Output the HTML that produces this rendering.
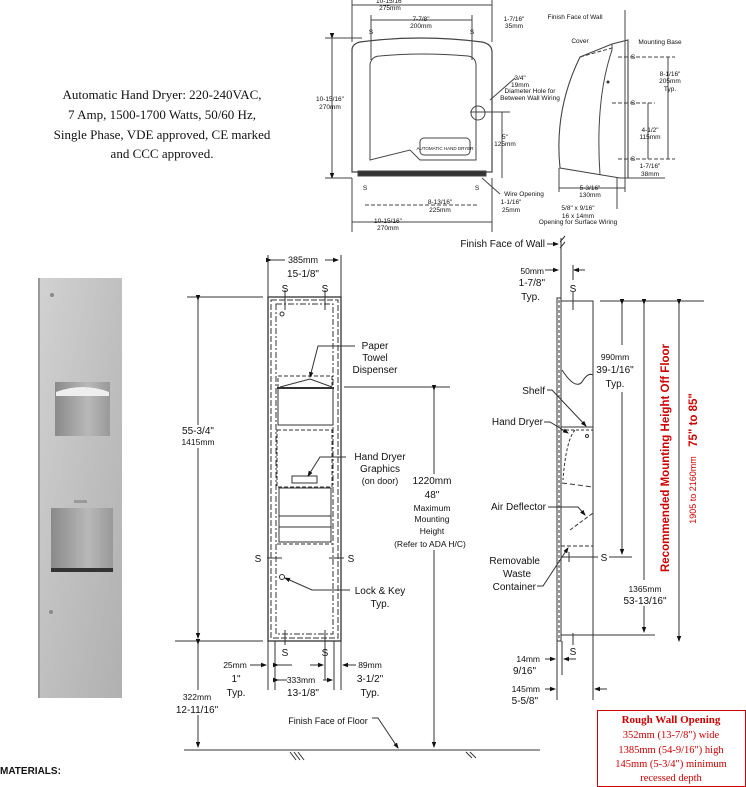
<!DOCTYPE html>
<html><head><meta charset="utf-8"><style>
html,body{margin:0;padding:0;background:#fff}
svg{display:block}
text{font-family:"Liberation Sans",sans-serif;fill:#111}
.s{font-family:"Liberation Serif",serif}
.r{fill:#d00000}
</style></head><body>
<svg width="746" height="787" viewBox="0 0 746 787" xmlns="http://www.w3.org/2000/svg">
<defs>
<linearGradient id="pg" x1="0" x2="1" y1="0" y2="1"><stop offset="0" stop-color="#d2d2d2"/><stop offset="0.5" stop-color="#c0c0c0"/><stop offset="1" stop-color="#b0b0b0"/></linearGradient>
<linearGradient id="og" x1="0" x2="1"><stop offset="0" stop-color="#8a8a8a"/><stop offset="0.6" stop-color="#b8b8b8"/><stop offset="1" stop-color="#999"/></linearGradient>
<marker id="a" markerWidth="6" markerHeight="6" refX="5" refY="3" orient="auto"><path d="M0,0.8 L6,3 L0,5.2z" fill="#111"/></marker>
</defs>

<g class="s" font-size="13" text-anchor="middle">
<text class="s" x="162" y="99">Automatic Hand Dryer: 220-240VAC,</text>
<text class="s" x="162" y="119">7 Amp, 1500-1700 Watts, 50/60 Hz,</text>
<text class="s" x="162" y="139">Single Phase, VDE approved, CE marked</text>
<text class="s" x="162" y="158">and CCC approved.</text>
</g>

<g fill="none" stroke="#444" stroke-width="1">
<path d="M352,50 Q352,44 360,42 Q420,34 482,42 Q492,44 492,52 L492,172 L352,172 Z" stroke-width="1.2"/>
<path d="M370,64 Q372,56 380,56 Q420,52 468,56 Q475,57 476,64 L476,160 L420,160 L410,150 L370,160 Z"/>
<rect x="358" y="171" width="128" height="5" fill="#333"/>
<circle cx="478" cy="113" r="7"/>
<rect x="420" y="138" width="50" height="17" rx="4"/>
<line x1="332" y1="38" x2="332" y2="178" marker-start="url(#a)" marker-end="url(#a)"/>
<line x1="325" y1="38" x2="362" y2="38"/><line x1="325" y1="178" x2="352" y2="178"/>
<line x1="352" y1="0" x2="352" y2="42"/><line x1="492" y1="0" x2="492" y2="42"/>
<line x1="352" y1="5" x2="492" y2="5"/>
<line x1="371" y1="20" x2="472" y2="20"/><line x1="371" y1="15" x2="371" y2="60"/><line x1="472" y1="15" x2="472" y2="60"/>
<line x1="502" y1="112" x2="502" y2="178"/><line x1="470" y1="112" x2="510" y2="112"/>
<line x1="352" y1="178" x2="352" y2="232"/><line x1="492" y1="178" x2="492" y2="232"/>
<line x1="365" y1="205" x2="477" y2="205" stroke-dasharray="4 2"/>
<line x1="352" y1="222" x2="492" y2="222"/>
<line x1="490" y1="100" x2="515" y2="78"/>
<line x1="482" y1="178" x2="500" y2="194"/>
</g>
<g font-size="6.5" text-anchor="middle">
<text x="390" y="3">10-15/16"</text><text x="390" y="10">275mm</text>
<text x="421" y="21">7-7/8"</text><text x="421" y="28">200mm</text>
<text x="514" y="21">1-7/16"</text><text x="514" y="28">35mm</text>
<text x="371" y="34">S</text><text x="472" y="34">S</text>
<text x="330" y="101">10-15/16"</text><text x="330" y="109">270mm</text>
<text x="520" y="80">3/4"</text><text x="520" y="87">19mm</text>
<text x="530" y="93">Diameter Hole for</text><text x="530" y="100">Between Wall Wiring</text>
<text x="505" y="139">5"</text><text x="505" y="146">125mm</text>
<text x="445" y="150" font-size="4.5">AUTOMATIC HAND DRYER</text>
<text x="365" y="190">S</text><text x="477" y="190">S</text>
<text x="524" y="196">Wire Opening</text>
<text x="440" y="204">8-13/16"</text><text x="440" y="212">225mm</text>
<text x="511" y="204">1-1/16"</text><text x="511" y="212">25mm</text>
<text x="388" y="223">10-15/16"</text><text x="388" y="230">270mm</text>
</g>

<g fill="none" stroke="#444">
<line x1="625" y1="10" x2="625" y2="182"/>
<path d="M580,57 L612,44 L628,40 L628,178 L620,178 L560,168 Q554,110 580,57 Z" stroke-width="1.1"/>
<path d="M612,44 L612,50 Q595,100 600,175"/>
<line x1="580" y1="57" x2="612" y2="48" stroke-dasharray="4 2"/>
<line x1="618" y1="57" x2="675" y2="57" stroke-dasharray="4 2"/>
<line x1="612" y1="103" x2="655" y2="103" stroke-dasharray="4 2"/>
<line x1="618" y1="159" x2="675" y2="159" stroke-dasharray="4 2"/>
<line x1="668" y1="57" x2="668" y2="159"/><line x1="648" y1="103" x2="648" y2="159"/>
<line x1="628" y1="178" x2="665" y2="178"/>
<line x1="559" y1="168" x2="559" y2="192"/><line x1="625" y1="182" x2="625" y2="192"/>
<line x1="559" y1="188" x2="625" y2="188"/>
<line x1="617" y1="178" x2="617" y2="209"/>
</g>
<circle cx="608" cy="82" r="1.5" fill="#333"/>
<g font-size="6.5" text-anchor="middle">
<text x="575" y="19">Finish Face of Wall</text>
<text x="580" y="43">Cover</text><text x="660" y="44">Mounting Base</text>
<text x="633" y="59">S</text><text x="633" y="105">S</text><text x="633" y="161">S</text>
<text x="670" y="76">8-1/16"</text><text x="670" y="83">205mm</text><text x="670" y="91">Typ.</text>
<text x="650" y="132">4-1/2"</text><text x="650" y="139">115mm</text>
<text x="650" y="168">1-7/16"</text><text x="650" y="176">38mm</text>
<text x="590" y="190">5-3/16"</text><text x="590" y="197">130mm</text>
<text x="578" y="210">5/8" x 9/16"</text><text x="578" y="218">16 x 14mm</text><text x="578" y="224">Opening for Surface Wiring</text>
</g>

<rect x="38" y="278" width="84" height="420" fill="url(#pg)"/>
<rect x="38" y="278" width="2" height="420" fill="#999"/>
<rect x="55" y="382" width="55" height="54" fill="url(#og)"/>
<path d="M56,392 Q83,382 109,392 L109,396 L56,396Z" fill="#eee"/>
<rect x="51" y="508" width="62" height="64" fill="url(#og)"/>
<rect x="51" y="568" width="62" height="4" fill="#333"/>
<rect x="74" y="500" width="13" height="3" fill="#999"/>
<circle cx="52" cy="295" r="2" fill="#888"/><circle cx="51" cy="612" r="2" fill="#888"/>

<g fill="none" stroke="#333" stroke-width="1">
<rect x="268" y="297" width="73" height="344" stroke-width="1.3"/>
<rect x="271" y="300" width="67" height="338" stroke-dasharray="6 2"/>
<rect x="276" y="304" width="57" height="330" stroke-dasharray="6 2 2 2"/>
<rect x="278" y="388" width="55" height="37"/>
<line x1="277" y1="388" x2="334" y2="388" stroke-width="2"/>
<path d="M280,387 L310,379 L332,387"/>
<rect x="278" y="376" width="54" height="12" stroke-dasharray="4 2"/>
<rect x="277" y="430" width="55" height="57" stroke-dasharray="4 2"/>
<rect x="279" y="488" width="52" height="54"/>
<line x1="279" y1="516" x2="331" y2="516"/><line x1="279" y1="527" x2="331" y2="527"/>
<line x1="277" y1="544" x2="333" y2="544" stroke-dasharray="4 2"/>
<rect x="292" y="476" width="25" height="7"/>
<circle cx="282" cy="314" r="2"/><circle cx="282" cy="577" r="2.5"/>
<line x1="285" y1="290" x2="285" y2="310"/><line x1="325" y1="290" x2="325" y2="310"/>
<line x1="285" y1="630" x2="285" y2="645"/><line x1="325" y1="630" x2="325" y2="645"/>
<line x1="267" y1="558" x2="282" y2="558"/><line x1="329" y1="558" x2="344" y2="558"/>
<line x1="268" y1="255" x2="268" y2="297"/><line x1="341" y1="255" x2="341" y2="297"/>
<line x1="271" y1="260" x2="285" y2="260" marker-start="url(#a)"/><line x1="325" y1="260" x2="338" y2="260" marker-end="url(#a)"/>
<line x1="187" y1="297" x2="263" y2="297"/><line x1="175" y1="641" x2="263" y2="641"/>
<line x1="198" y1="300" x2="198" y2="425" marker-start="url(#a)"/><line x1="198" y1="448" x2="198" y2="638" marker-end="url(#a)"/>
<line x1="198" y1="644" x2="198" y2="690" marker-start="url(#a)"/><line x1="198" y1="715" x2="198" y2="747" marker-end="url(#a)"/>
<line x1="184" y1="750" x2="540" y2="750"/>
<line x1="290" y1="752" x2="296" y2="760"/><line x1="294" y1="752" x2="300" y2="760"/><line x1="298" y1="752" x2="304" y2="760"/>
<line x1="344" y1="387" x2="450" y2="387"/>
<line x1="434" y1="390" x2="434" y2="474" marker-start="url(#a)"/><line x1="434" y1="550" x2="434" y2="747" marker-end="url(#a)"/>
<line x1="268" y1="641" x2="268" y2="690"/><line x1="275" y1="641" x2="275" y2="690"/>
<line x1="325" y1="645" x2="325" y2="680"/><line x1="334" y1="641" x2="334" y2="690"/><line x1="341" y1="641" x2="341" y2="690"/>
<line x1="250" y1="665" x2="266" y2="665" marker-end="url(#a)"/>
<line x1="278" y1="665" x2="292" y2="665" marker-start="url(#a)"/><line x1="310" y1="665" x2="323" y2="665" marker-end="url(#a)"/>
<line x1="278" y1="680" x2="287" y2="680" marker-start="url(#a)"/><line x1="323" y1="680" x2="332" y2="680" marker-end="url(#a)"/>
<line x1="356" y1="665" x2="343" y2="665" marker-end="url(#a)"/>
<path d="M355,346 L318,346 L310,377" marker-end="url(#a)"/>
<path d="M346,457 L320,457 L308,476" marker-end="url(#a)"/>
<path d="M350,590 L312,590 L285,578" marker-end="url(#a)"/>
<path d="M372,718 L378,718 L398,748" marker-end="url(#a)"/>
</g>
<g font-size="10" text-anchor="middle">
<text x="303" y="263" font-size="9">385mm</text><text x="303" y="277">15-1/8"</text>
<text x="285" y="292">S</text><text x="325" y="292">S</text>
<text x="198" y="434">55-3/4"</text><text x="198" y="445" font-size="8.5">1415mm</text>
<text x="375" y="349">Paper</text><text x="375" y="361">Towel</text><text x="375" y="373">Dispenser</text>
<text x="380" y="460">Hand Dryer</text><text x="380" y="472">Graphics</text><text x="380" y="484" font-size="9">(on door)</text>
<text x="258" y="562">S</text><text x="351" y="562">S</text>
<text x="380" y="594">Lock &amp; Key</text><text x="380" y="607">Typ.</text>
<text x="432" y="484">1220mm</text><text x="432" y="498">48"</text>
<text x="432" y="511" font-size="8.5">Maximum</text><text x="432" y="522" font-size="8.5">Mounting</text><text x="432" y="534" font-size="8.5">Height</text><text x="430" y="547" font-size="8.5">(Refer to ADA H/C)</text>
<text x="285" y="656">S</text><text x="325" y="656">S</text>
<text x="235" y="668" font-size="8.5">25mm</text><text x="236" y="682">1"</text><text x="236" y="696">Typ.</text>
<text x="301" y="683" font-size="8.5">333mm</text><text x="303" y="696">13-1/8"</text>
<text x="370" y="668" font-size="8.5">89mm</text><text x="370" y="682">3-1/2"</text><text x="370" y="696">Typ.</text>
<text x="197" y="700" font-size="8.5">322mm</text><text x="197" y="713">12-11/16"</text>
<text x="328" y="724" font-size="9">Finish Face of Floor</text>
</g>
<text x="0" y="774" font-size="10" font-weight="bold">MATERIALS:</text>

<g fill="none" stroke="#333" stroke-width="1">
<line x1="561" y1="238" x2="561" y2="298"/>
<path d="M560,242 L565,236 M560,248 L565,242" />
<rect x="557" y="298" width="4" height="343"/>
<rect x="561" y="301" width="32" height="334"/>
<line x1="559" y1="300" x2="559" y2="638" stroke-dasharray="3 2"/>
<path d="M562,370 Q575,390 582,382 Q588,372 593,375"/>
<line x1="561" y1="427" x2="593" y2="427"/><line x1="561" y1="430" x2="593" y2="430" stroke-dasharray="3 2"/>
<path d="M575,430 Q566,440 563,480" stroke-dasharray="3 2"/>
<line x1="562" y1="483" x2="593" y2="487" stroke-dasharray="5 3"/>
<line x1="570" y1="530" x2="593" y2="513" stroke-dasharray="4 2"/>
<line x1="561" y1="546" x2="593" y2="546" stroke-dasharray="4 2"/>
<line x1="569" y1="552" x2="569" y2="562"/>
<line x1="561" y1="557" x2="598" y2="557"/>
<line x1="609" y1="557" x2="632" y2="557"/>
<line x1="573" y1="292" x2="573" y2="310"/><line x1="573" y1="633" x2="573" y2="645"/>
<line x1="547" y1="244" x2="558" y2="244" marker-end="url(#a)"/>
<line x1="545" y1="270" x2="558" y2="270" marker-end="url(#a)"/><line x1="585" y1="270" x2="574" y2="270" marker-end="url(#a)"/>
<line x1="561" y1="258" x2="561" y2="300"/><line x1="573" y1="265" x2="573" y2="280"/>
<line x1="600" y1="301" x2="704" y2="301"/><line x1="593" y1="635" x2="655" y2="635"/>
<line x1="622" y1="304" x2="622" y2="345" marker-start="url(#a)"/><line x1="622" y1="392" x2="622" y2="554" marker-end="url(#a)"/>
<line x1="644" y1="304" x2="644" y2="580" marker-start="url(#a)"/><line x1="644" y1="606" x2="644" y2="632" marker-end="url(#a)"/>
<line x1="679" y1="304" x2="679" y2="641" marker-start="url(#a)" marker-end="url(#a)"/>
<line x1="557" y1="641" x2="557" y2="700"/><line x1="562" y1="641" x2="562" y2="675"/><line x1="593" y1="635" x2="593" y2="700"/>
<line x1="545" y1="659" x2="555" y2="659" marker-end="url(#a)"/><line x1="576" y1="659" x2="564" y2="659" marker-end="url(#a)"/>
<line x1="545" y1="689" x2="555" y2="689" marker-end="url(#a)"/><line x1="607" y1="689" x2="595" y2="689" marker-end="url(#a)"/>
<line x1="420" y1="750" x2="505" y2="750"/>
<line x1="466" y1="752" x2="472" y2="758"/><line x1="470" y1="752" x2="476" y2="758"/>
<path d="M547,390 L552,390 L586,426" marker-end="url(#a)"/>
<path d="M544,422 L550,422 L568,433" marker-end="url(#a)"/>
<path d="M548,507 L578,507 L585,515" marker-end="url(#a)"/>
<path d="M537,586 L543,586 L568,548" marker-end="url(#a)"/>
</g>
<circle cx="587" cy="436" r="1.5" fill="none" stroke="#333"/>
<g font-size="10" text-anchor="end">
<text x="545" y="247">Finish Face of Wall</text>
<text x="544" y="274" font-size="8.5">50mm</text><text x="545" y="286">1-7/8"</text><text x="540" y="300">Typ.</text>
<text x="545" y="394">Shelf</text>
<text x="543" y="425">Hand Dryer</text>
<text x="546" y="510">Air Deflector</text>
<text x="540" y="564">Removable</text><text x="531" y="577">Waste</text><text x="536" y="590">Container</text>
<text x="540" y="662" font-size="8.5">14mm</text><text x="536" y="674">9/16"</text>
<text x="540" y="692" font-size="8.5">145mm</text><text x="538" y="704">5-5/8"</text>
</g>
<g font-size="10" text-anchor="middle">
<text x="573" y="292">S</text><text x="573" y="655">S</text><text x="604" y="561">S</text>
<text x="615" y="360" font-size="8.5">990mm</text><text x="615" y="373">39-1/16"</text><text x="615" y="387">Typ.</text>
<text x="645" y="592" font-size="8.5">1365mm</text><text x="645" y="604">53-13/16"</text>
</g>
<text class="r" transform="translate(669,458) rotate(-90)" font-size="11.5" font-weight="bold" text-anchor="middle">Recommended Mounting Height Off Floor</text>
<text class="r" transform="translate(697,420) rotate(-90)" font-size="11.5" font-weight="bold" text-anchor="middle">75" to 85"</text>
<text class="r" transform="translate(696,490) rotate(-90)" font-size="9" text-anchor="middle">1905 to 2160mm</text>

<rect x="597.5" y="710.5" width="148" height="76" fill="none" stroke="#d00000"/>
<g class="s" font-size="10.5" text-anchor="middle">
<text class="s r" x="671" y="723" font-weight="bold" font-size="11">Rough Wall Opening</text>
<text class="s r" x="671" y="738">352mm (13-7/8") wide</text>
<text class="s r" x="671" y="753">1385mm (54-9/16") high</text>
<text class="s r" x="671" y="767">145mm (5-3/4") minimum</text>
<text class="s r" x="671" y="781">recessed depth</text>
</g>
</svg>
</body></html>
